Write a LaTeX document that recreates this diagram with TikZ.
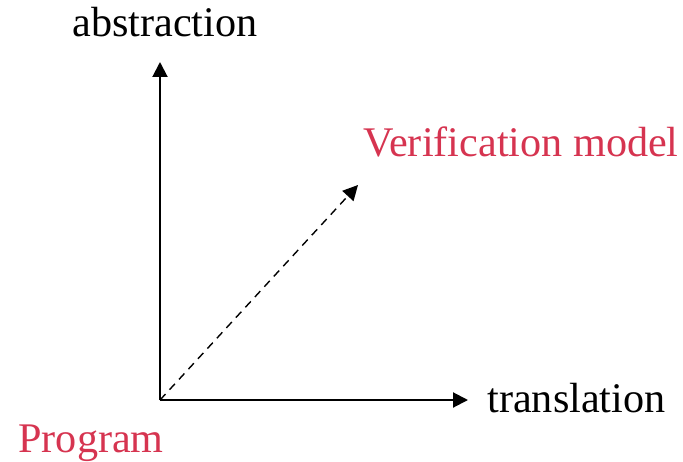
\documentclass[tikz,border=0pt]{standalone}
\usepackage{fontspec}
\setmainfont{Liberation Serif}
\usetikzlibrary{arrows.meta,positioning}
\definecolor{cRose}{RGB}{214,52,80}
\tikzset{
  axisarr/.style={-{Triangle[length=7.5pt,width=7.5pt]},line width=1pt,color=black},
  dasharr/.style={-{Triangle[length=7.5pt,width=7.5pt]},line width=0.7pt,dashed,
                  dash pattern=on 4pt off 3pt,color=black},
  blklbl/.style={inner sep=0pt,font=\fontsize{21.1}{26}\selectfont,text=black},
  redlbl/.style={inner sep=0pt,font=\fontsize{21.1}{26}\selectfont,text=cRose}
}
\begin{document}
\begin{tikzpicture}[x=0.5pt,y=0.5pt]
  \useasboundingbox (0,0) rectangle (683,461);

  \coordinate (orig) at (160,61);
  \coordinate (ytip) at (160,399);
  \coordinate (xtip) at (468,61);
  \coordinate (dtip) at (358,276);

  \node[blklbl,anchor=base west] (abs) at (72,424) {abstraction};
  \node[redlbl,anchor=base west] (vm) at (363,305) {Verification model};
  \node[blklbl,anchor=base west] (trans) at (487,49) {translation};
  \node[redlbl,anchor=base west] (prog) at (18,9) {Program};

  \draw[axisarr] (orig) -- (ytip);
  \draw[axisarr] (orig) -- (xtip);
  \draw[dasharr] (orig) -- (dtip);

\end{tikzpicture}
\end{document}
